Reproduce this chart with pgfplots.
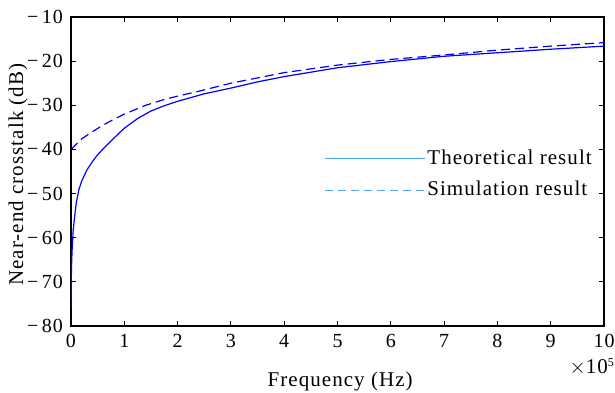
\documentclass[border=0pt]{standalone}
\usepackage{pgfplots}
\pgfplotsset{compat=1.18}
\usepackage{fontspec}
\setmainfont{Liberation Serif}[LetterSpace=5]
\definecolor{legblue}{RGB}{77,166,245}
\definecolor{curveblue}{RGB}{0,0,255}
\begin{document}
\fontsize{21}{24}\selectfont
\begin{tikzpicture}
\path[use as bounding box] (-71pt,-67pt) rectangle (544pt,326pt);
\begin{axis}[
  scale only axis,
  width=533pt, height=309pt,
  xmin=0, xmax=10, ymin=-80, ymax=-10,
  xtick={0,1,...,10},
  ytick={-80,-70,...,-10},
  yticklabels={−\,80,−\,70,−\,60,−\,50,−\,40,−\,30,−\,20,−\,10},
  /pgf/number format/assume math mode=true,
  tick align=inside,
  tick pos=both,
  major tick length=5pt,
  axis line style={line width=1.2pt},
  every tick/.style={black, line width=1pt},
  tick label style={font=\fontsize{20}{23}\selectfont},
  xticklabel style={yshift=-1pt},
  yticklabel style={xshift=-1pt},
  xlabel={Frequency (Hz)},
  ylabel={Near-end crosstalk (dB)},
  label style={font=\fontsize{21}{24}\selectfont},
  xlabel style={at={(axis description cs:0.505,0)}, anchor=center, yshift=-55pt},
  ylabel style={at={(axis description cs:0,0.49)}, anchor=center, yshift=53pt},
  legend style={draw=none, fill=none, at={(0.475,0.578)}, anchor=north west,
    inner xsep=0pt, inner ysep=0pt, row sep=10pt, font=\fontsize{21}{24}\selectfont,
    /tikz/every even column/.append style={column sep=0pt}},
  legend cell align=left,
  legend image code/.code={\draw[#1] (0pt,0pt) -- (100pt,0pt);},
]
\addplot[curveblue, line width=1.2pt, forget plot] coordinates {
(0.0,-76) (0.002,-75.5) (0.006,-69) (0.01,-66.5) (0.02,-63) (0.04,-58.5) (0.07,-55) (0.1,-52)
(0.15,-49) (0.2,-47.2) (0.3,-44.6) (0.4,-42.8) (0.5,-41.2) (0.6,-39.9)
(0.8,-37.5) (1.0,-35.2) (1.25,-33.0) (1.5,-31.3) (1.75,-30.1) (2.0,-29.1)
(2.5,-27.4) (3.0,-26.1) (3.5,-24.7) (4.0,-23.5) (4.5,-22.5) (5.0,-21.5)
(6.0,-20.1) (7.0,-18.9) (8.0,-18.1) (9.0,-17.3) (10.0,-16.6)
};
\addplot[curveblue, line width=1.2pt, dash pattern=on 9pt off 5pt, forget plot] coordinates {
(0,-40.0) (0.1,-38.8) (0.2,-37.6) (0.4,-36.0) (0.6,-34.5) (0.8,-33.2)
(1.0,-32.0) (1.4,-30.0) (1.8,-28.5) (2.4,-26.8) (3.0,-25.0) (4.0,-22.6)
(5.0,-20.9) (6.0,-19.6) (7.0,-18.6) (8.0,-17.5) (9.0,-16.6) (10.0,-15.8)
};
\addlegendimage{color=legblue, solid, line width=1pt}
\addlegendentry{Theoretical result}
\addlegendimage{color=legblue, line width=1pt, dash pattern=on 8pt off 5pt}
\addlegendentry{Simulation result}
\end{axis}
\node[anchor=east, inner sep=0pt] at (543pt,-41pt) {$\times$10\raisebox{0.8ex}{\fontsize{12}{14}\selectfont 5}};
\end{tikzpicture}
\end{document}
